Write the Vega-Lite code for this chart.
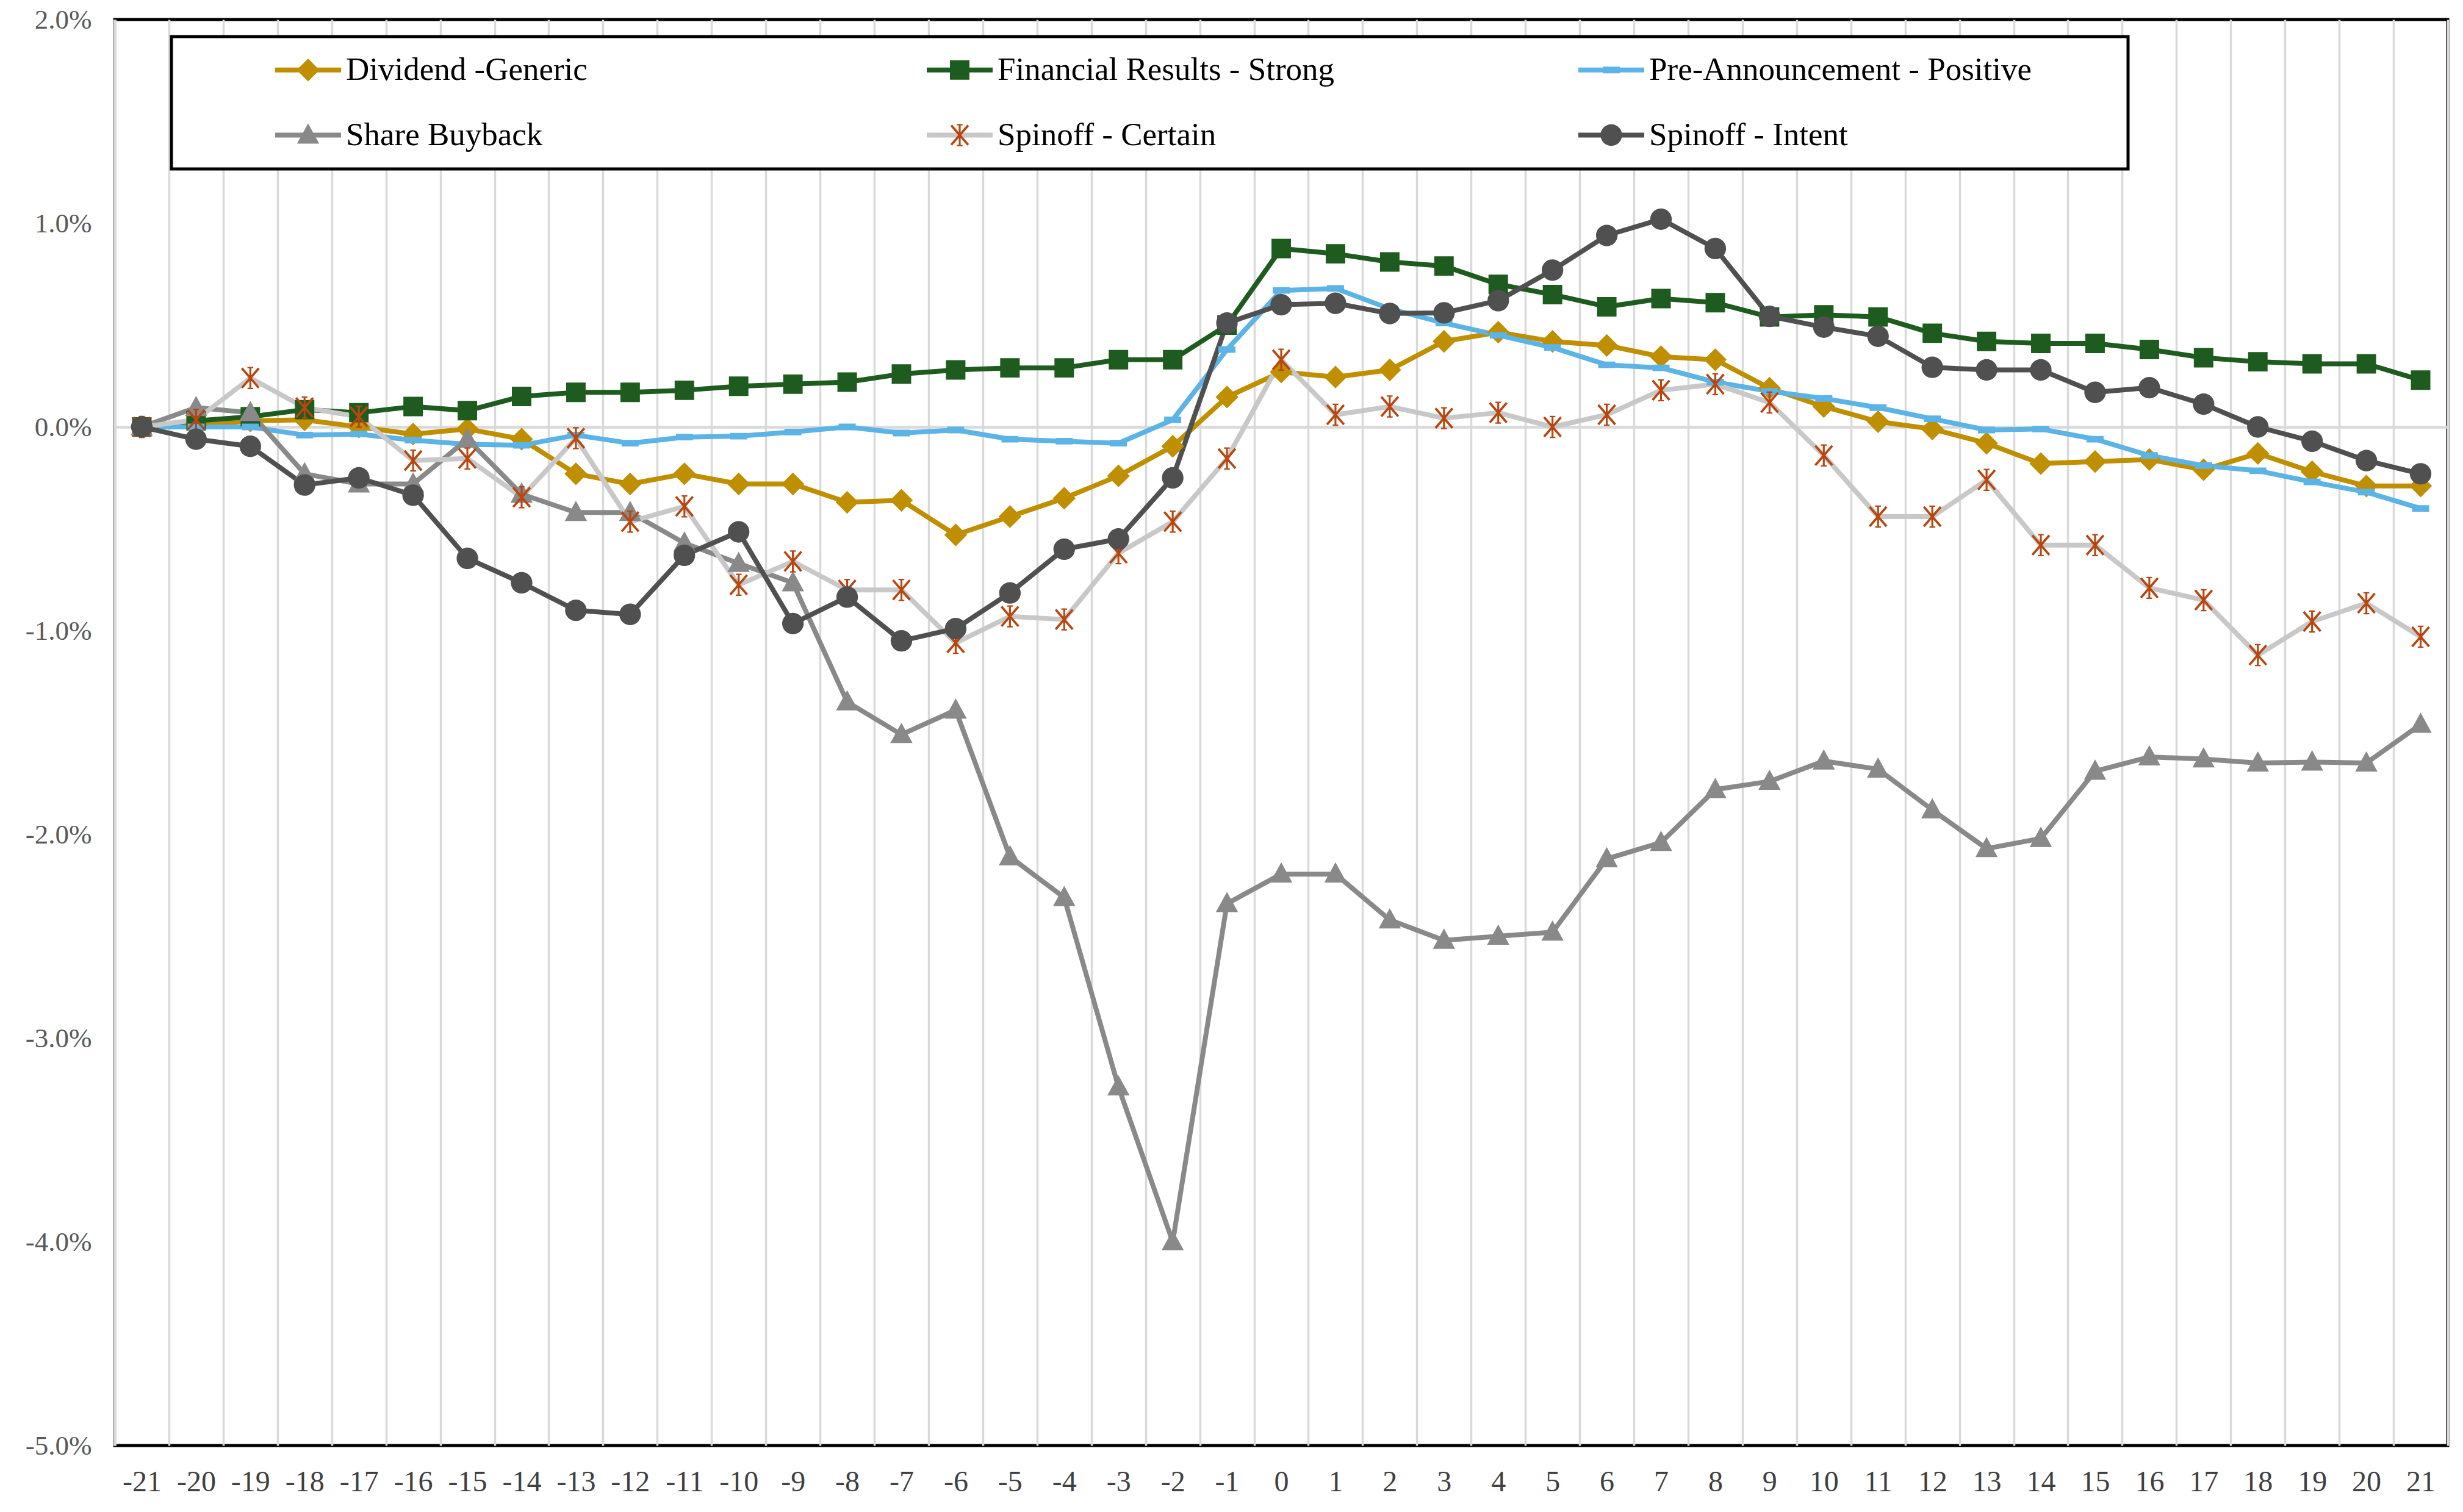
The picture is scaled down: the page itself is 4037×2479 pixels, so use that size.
{
  "$schema": "https://vega.github.io/schema/vega-lite/v6.json",
  "autosize": {"type": "none"},
  "padding": {"left": 188, "top": 32, "right": 25, "bottom": 109},
  "width": 3824,
  "height": 2338,
  "background": "#FFFFFF",
  "config": {
    "view": {"stroke": "#000000", "strokeWidth": 5},
    "font": "Liberation Serif"
  },
  "data": {
    "values": [
      {"t": -21, "Dividend -Generic": 0, "Financial Results - Strong": 0, "Pre-Announcement - Positive": 0, "Share Buyback": 0, "Spinoff - Certain": 0, "Spinoff - Intent": 0},
      {"t": -20, "Dividend -Generic": 0.01, "Financial Results - Strong": 0.03, "Pre-Announcement - Positive": 0.0, "Share Buyback": 0.095, "Spinoff - Certain": 0.035, "Spinoff - Intent": -0.06},
      {"t": -19, "Dividend -Generic": 0.03, "Financial Results - Strong": 0.05, "Pre-Announcement - Positive": 0.0, "Share Buyback": 0.07, "Spinoff - Certain": 0.24, "Spinoff - Intent": -0.095},
      {"t": -18, "Dividend -Generic": 0.035, "Financial Results - Strong": 0.085, "Pre-Announcement - Positive": -0.04, "Share Buyback": -0.23, "Spinoff - Certain": 0.095, "Spinoff - Intent": -0.285},
      {"t": -17, "Dividend -Generic": 0.0, "Financial Results - Strong": 0.07, "Pre-Announcement - Positive": -0.035, "Share Buyback": -0.28, "Spinoff - Certain": 0.05, "Spinoff - Intent": -0.25},
      {"t": -16, "Dividend -Generic": -0.035, "Financial Results - Strong": 0.1, "Pre-Announcement - Positive": -0.065, "Share Buyback": -0.28, "Spinoff - Certain": -0.165, "Spinoff - Intent": -0.335},
      {"t": -15, "Dividend -Generic": -0.01, "Financial Results - Strong": 0.08, "Pre-Announcement - Positive": -0.085, "Share Buyback": -0.06, "Spinoff - Certain": -0.155, "Spinoff - Intent": -0.645},
      {"t": -14, "Dividend -Generic": -0.06, "Financial Results - Strong": 0.15, "Pre-Announcement - Positive": -0.09, "Share Buyback": -0.33, "Spinoff - Certain": -0.345, "Spinoff - Intent": -0.765},
      {"t": -13, "Dividend -Generic": -0.23, "Financial Results - Strong": 0.17, "Pre-Announcement - Positive": -0.04, "Share Buyback": -0.42, "Spinoff - Certain": -0.055, "Spinoff - Intent": -0.9},
      {"t": -12, "Dividend -Generic": -0.28, "Financial Results - Strong": 0.17, "Pre-Announcement - Positive": -0.08, "Share Buyback": -0.42, "Spinoff - Certain": -0.465, "Spinoff - Intent": -0.92},
      {"t": -11, "Dividend -Generic": -0.23, "Financial Results - Strong": 0.18, "Pre-Announcement - Positive": -0.05, "Share Buyback": -0.57, "Spinoff - Certain": -0.39, "Spinoff - Intent": -0.63},
      {"t": -10, "Dividend -Generic": -0.28, "Financial Results - Strong": 0.2, "Pre-Announcement - Positive": -0.045, "Share Buyback": -0.67, "Spinoff - Certain": -0.775, "Spinoff - Intent": -0.515},
      {"t": -9, "Dividend -Generic": -0.28, "Financial Results - Strong": 0.21, "Pre-Announcement - Positive": -0.025, "Share Buyback": -0.765, "Spinoff - Certain": -0.66, "Spinoff - Intent": -0.965},
      {"t": -8, "Dividend -Generic": -0.37, "Financial Results - Strong": 0.22, "Pre-Announcement - Positive": 0.0, "Share Buyback": -1.35, "Spinoff - Certain": -0.8, "Spinoff - Intent": -0.835},
      {"t": -7, "Dividend -Generic": -0.36, "Financial Results - Strong": 0.26, "Pre-Announcement - Positive": -0.03, "Share Buyback": -1.51, "Spinoff - Certain": -0.8, "Spinoff - Intent": -1.05},
      {"t": -6, "Dividend -Generic": -0.53, "Financial Results - Strong": 0.28, "Pre-Announcement - Positive": -0.015, "Share Buyback": -1.39, "Spinoff - Certain": -1.06, "Spinoff - Intent": -0.99},
      {"t": -5, "Dividend -Generic": -0.44, "Financial Results - Strong": 0.29, "Pre-Announcement - Positive": -0.06, "Share Buyback": -2.11, "Spinoff - Certain": -0.93, "Spinoff - Intent": -0.815},
      {"t": -4, "Dividend -Generic": -0.35, "Financial Results - Strong": 0.29, "Pre-Announcement - Positive": -0.07, "Share Buyback": -2.31, "Spinoff - Certain": -0.945, "Spinoff - Intent": -0.6},
      {"t": -3, "Dividend -Generic": -0.24, "Financial Results - Strong": 0.33, "Pre-Announcement - Positive": -0.08, "Share Buyback": -3.24, "Spinoff - Certain": -0.62, "Spinoff - Intent": -0.55},
      {"t": -2, "Dividend -Generic": -0.095, "Financial Results - Strong": 0.33, "Pre-Announcement - Positive": 0.035, "Share Buyback": -4.0, "Spinoff - Certain": -0.465, "Spinoff - Intent": -0.25},
      {"t": -1, "Dividend -Generic": 0.147, "Financial Results - Strong": 0.5, "Pre-Announcement - Positive": 0.38, "Share Buyback": -2.34, "Spinoff - Certain": -0.155, "Spinoff - Intent": 0.51},
      {"t": 0, "Dividend -Generic": 0.27, "Financial Results - Strong": 0.876, "Pre-Announcement - Positive": 0.67, "Share Buyback": -2.195, "Spinoff - Certain": 0.33, "Spinoff - Intent": 0.6},
      {"t": 1, "Dividend -Generic": 0.245, "Financial Results - Strong": 0.85, "Pre-Announcement - Positive": 0.68, "Share Buyback": -2.195, "Spinoff - Certain": 0.06, "Spinoff - Intent": 0.607},
      {"t": 2, "Dividend -Generic": 0.28, "Financial Results - Strong": 0.81, "Pre-Announcement - Positive": 0.58, "Share Buyback": -2.42, "Spinoff - Certain": 0.1, "Spinoff - Intent": 0.557},
      {"t": 3, "Dividend -Generic": 0.42, "Financial Results - Strong": 0.79, "Pre-Announcement - Positive": 0.51, "Share Buyback": -2.52, "Spinoff - Certain": 0.043, "Spinoff - Intent": 0.56},
      {"t": 4, "Dividend -Generic": 0.465, "Financial Results - Strong": 0.7, "Pre-Announcement - Positive": 0.45, "Share Buyback": -2.5, "Spinoff - Certain": 0.07, "Spinoff - Intent": 0.62},
      {"t": 5, "Dividend -Generic": 0.42, "Financial Results - Strong": 0.65, "Pre-Announcement - Positive": 0.39, "Share Buyback": -2.48, "Spinoff - Certain": 0.0, "Spinoff - Intent": 0.77},
      {"t": 6, "Dividend -Generic": 0.4, "Financial Results - Strong": 0.59, "Pre-Announcement - Positive": 0.305, "Share Buyback": -2.12, "Spinoff - Certain": 0.06, "Spinoff - Intent": 0.94},
      {"t": 7, "Dividend -Generic": 0.345, "Financial Results - Strong": 0.63, "Pre-Announcement - Positive": 0.29, "Share Buyback": -2.04, "Spinoff - Certain": 0.18, "Spinoff - Intent": 1.02},
      {"t": 8, "Dividend -Generic": 0.33, "Financial Results - Strong": 0.61, "Pre-Announcement - Positive": 0.22, "Share Buyback": -1.78, "Spinoff - Certain": 0.21, "Spinoff - Intent": 0.876},
      {"t": 9, "Dividend -Generic": 0.19, "Financial Results - Strong": 0.54, "Pre-Announcement - Positive": 0.175, "Share Buyback": -1.74, "Spinoff - Certain": 0.12, "Spinoff - Intent": 0.543},
      {"t": 10, "Dividend -Generic": 0.1, "Financial Results - Strong": 0.55, "Pre-Announcement - Positive": 0.14, "Share Buyback": -1.64, "Spinoff - Certain": -0.14, "Spinoff - Intent": 0.49},
      {"t": 11, "Dividend -Generic": 0.026, "Financial Results - Strong": 0.54, "Pre-Announcement - Positive": 0.095, "Share Buyback": -1.68, "Spinoff - Certain": -0.44, "Spinoff - Intent": 0.445},
      {"t": 12, "Dividend -Generic": -0.01, "Financial Results - Strong": 0.46, "Pre-Announcement - Positive": 0.04, "Share Buyback": -1.88, "Spinoff - Certain": -0.44, "Spinoff - Intent": 0.293},
      {"t": 13, "Dividend -Generic": -0.08, "Financial Results - Strong": 0.42, "Pre-Announcement - Positive": -0.015, "Share Buyback": -2.07, "Spinoff - Certain": -0.26, "Spinoff - Intent": 0.28},
      {"t": 14, "Dividend -Generic": -0.18, "Financial Results - Strong": 0.41, "Pre-Announcement - Positive": -0.01, "Share Buyback": -2.02, "Spinoff - Certain": -0.58, "Spinoff - Intent": 0.28},
      {"t": 15, "Dividend -Generic": -0.17, "Financial Results - Strong": 0.41, "Pre-Announcement - Positive": -0.06, "Share Buyback": -1.69, "Spinoff - Certain": -0.58, "Spinoff - Intent": 0.17},
      {"t": 16, "Dividend -Generic": -0.16, "Financial Results - Strong": 0.38, "Pre-Announcement - Positive": -0.14, "Share Buyback": -1.62, "Spinoff - Certain": -0.79, "Spinoff - Intent": 0.193},
      {"t": 17, "Dividend -Generic": -0.21, "Financial Results - Strong": 0.34, "Pre-Announcement - Positive": -0.19, "Share Buyback": -1.63, "Spinoff - Certain": -0.85, "Spinoff - Intent": 0.112},
      {"t": 18, "Dividend -Generic": -0.13, "Financial Results - Strong": 0.32, "Pre-Announcement - Positive": -0.215, "Share Buyback": -1.65, "Spinoff - Certain": -1.12, "Spinoff - Intent": 0.0},
      {"t": 19, "Dividend -Generic": -0.22, "Financial Results - Strong": 0.31, "Pre-Announcement - Positive": -0.27, "Share Buyback": -1.645, "Spinoff - Certain": -0.955, "Spinoff - Intent": -0.07},
      {"t": 20, "Dividend -Generic": -0.29, "Financial Results - Strong": 0.31, "Pre-Announcement - Positive": -0.32, "Share Buyback": -1.65, "Spinoff - Certain": -0.865, "Spinoff - Intent": -0.165},
      {"t": 21, "Dividend -Generic": -0.29, "Financial Results - Strong": 0.23, "Pre-Announcement - Positive": -0.4, "Share Buyback": -1.46, "Spinoff - Certain": -1.03, "Spinoff - Intent": -0.23}
    ]
  },
  "transform": [
    {"fold": ["Dividend -Generic", "Financial Results - Strong", "Pre-Announcement - Positive", "Share Buyback", "Spinoff - Certain", "Spinoff - Intent"], "as": ["series", "value"]}
  ],
  "encoding": {
    "x": {
      "field": "t",
      "type": "ordinal",
      "bandPosition": 0.5,
      "scale": {"type": "band", "paddingInner": 0, "paddingOuter": 0},
      "axis": {
        "title": null,
        "tickBand": "extent",
        "grid": true,
        "gridColor": "#D9D9D9",
        "gridWidth": 3.5,
        "ticks": false,
        "domain": false,
        "labelAngle": 0,
        "labelFont": "Liberation Serif",
        "labelFontSize": 48,
        "labelColor": "#404040",
        "labelPadding": 36,
        "labelOverlap": false,
        "labelExpr": "isValid(datum.value) ? '' + datum.value : ''"
      }
    },
    "y": {
      "field": "value",
      "type": "quantitative",
      "scale": {"domain": [-5, 2], "nice": false, "zero": false},
      "axis": {
        "title": null,
        "values": [-5, -4, -3, -2, -1, 0, 1, 2],
        "grid": true,
        "gridColor": {"condition": {"test": "datum.value === 0", "value": "#D9D9D9"}, "value": "transparent"},
        "gridWidth": 4.5,
        "ticks": false,
        "domain": true,
        "domainColor": "#D9D9D9",
        "domainWidth": 5,
        "labelFont": "Liberation Serif",
        "labelFontSize": 45,
        "labelColor": "#595959",
        "labelPadding": 38,
        "labelExpr": "(datum.value < 0 ? '-' : '') + format(abs(datum.value), '.1f') + '%'"
      }
    }
  },
  "layer": [
    {
      "mark": {"type": "line", "strokeWidth": 8, "strokeJoin": "round", "strokeCap": "round"},
      "encoding": {
        "color": {
          "field": "series",
          "type": "nominal",
          "scale": {
            "domain": ["Dividend -Generic", "Financial Results - Strong", "Pre-Announcement - Positive", "Share Buyback", "Spinoff - Certain", "Spinoff - Intent"],
            "range": ["#BF8F00", "#1E5B1E", "#5CB3E5", "#898989", "#C8C8C8", "#505050"]
          },
          "legend": {
            "orient": "none",
            "legendX": 93,
            "legendY": 28,
            "direction": "horizontal",
            "columns": 3,
            "gridAlign": "all",
            "columnPadding": 182,
            "rowPadding": 53,
            "padding": 28,
            "title": ".",
            "titleOrient": "right",
            "titleFontSize": 10,
            "titleColor": "transparent",
            "titlePadding": 127,
            "labelFont": "Liberation Serif",
            "labelFontSize": 53,
            "labelColor": "#000000",
            "labelOffset": 35.5,
            "labelLimit": 2000,
            "symbolSize": 2025,
            "symbolOffset": 169.5,
            "symbolStrokeWidth": 8,
            "symbolType": "M-2.4,0L2.4,0",
            "symbolFillColor": "transparent",
            "fillColor": "#FFFFFF",
            "strokeColor": "#000000",
            "encode": {"legend": {"update": {"strokeWidth": {"value": 5}}}}
          }
        }
      }
    },
    {
      "mark": {"type": "point", "filled": true, "opacity": 1, "size": 2025, "strokeWidth": 0},
      "encoding": {
        "fill": {
          "field": "series",
          "type": "nominal",
          "scale": {"range": ["#BF8F00", "#1E5B1E", "#5CB3E5", "#898989", "#B8460E", "#505050"]},
          "legend": {
            "orient": "none",
            "legendX": 93,
            "legendY": 28,
            "direction": "horizontal",
            "columns": 3,
            "gridAlign": "all",
            "columnPadding": 182,
            "rowPadding": 53,
            "padding": 28,
            "title": ".",
            "titleOrient": "right",
            "titleFontSize": 10,
            "titleColor": "transparent",
            "titlePadding": 127,
            "labelFont": "Liberation Serif",
            "labelFontSize": 53,
            "labelColor": "#000000",
            "labelOpacity": 0,
            "labelOffset": 35.5,
            "labelLimit": 2000,
            "symbolSize": 2025,
            "symbolOffset": 169.5,
            "symbolStrokeWidth": 0,
            "symbolStrokeColor": "transparent",
            "symbolOpacity": 1
          }
        },
        "shape": {
          "field": "series",
          "type": "nominal",
          "scale": {
            "range": [
              "M-3.1,0L3.1,0M0,-0.83L0.83,0L0,0.83L-0.83,0Z",
              "M-3.1,0L3.1,0M-0.71,-0.71H0.71V0.71H-0.71Z",
              "M-3.1,0L3.1,0M-0.62,-0.24H0.62V0.24H-0.62Z",
              "M-3.1,0L3.1,0M0,-0.86L0.81,0.62L-0.81,0.62Z",
              "M-3.1,0L3.1,0M-0.07,-0.81H0.07V0.81H-0.07ZM-0.681,-0.659L-0.555,-0.768L0.681,0.659L0.555,0.768ZM-0.555,0.768L-0.681,0.659L0.555,-0.768L0.681,-0.659ZM-0.21,-0.81H0.21V-0.71H-0.21ZM-0.21,0.71H0.21V0.81H-0.21Z",
              "M-3.1,0L3.1,0M-0.785,0A0.785,0.785,0,1,0,0.785,0A0.785,0.785,0,1,0,-0.785,0Z"
            ]
          },
          "legend": {
            "orient": "none",
            "legendX": 93,
            "legendY": 28,
            "direction": "horizontal",
            "columns": 3,
            "gridAlign": "all",
            "columnPadding": 182,
            "rowPadding": 53,
            "padding": 28,
            "title": ".",
            "titleOrient": "right",
            "titleFontSize": 10,
            "titleColor": "transparent",
            "titlePadding": 127,
            "labelFont": "Liberation Serif",
            "labelFontSize": 53,
            "labelColor": "#000000",
            "labelOpacity": 0,
            "labelOffset": 35.5,
            "labelLimit": 2000,
            "symbolSize": 2025,
            "symbolOffset": 169.5,
            "symbolStrokeWidth": 0,
            "symbolStrokeColor": "transparent",
            "symbolOpacity": 1
          }
        }
      }
    }
  ]
}
